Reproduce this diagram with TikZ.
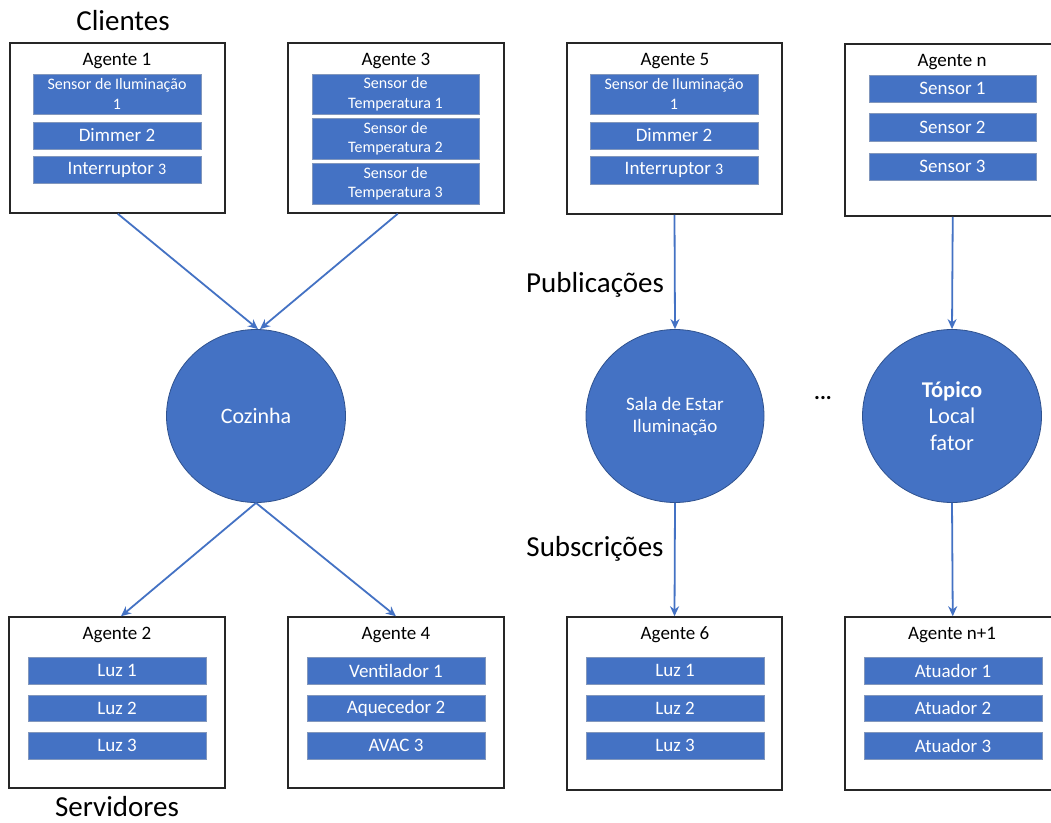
\documentclass[tikz,border=0pt]{standalone}
\usepackage{fontspec}
\setmainfont{Carlito}
\usetikzlibrary{arrows.meta,shapes.geometric}
\definecolor{blu}{HTML}{4472C4}
\definecolor{bluedge}{HTML}{2F528F}
\tikzset{
  x=1pt, y=1pt,
  agentbox/.style={draw=black!85, line width=1.5pt, fill=white, inner sep=0},
  agenttitle/.style={text=black, inner sep=0, anchor=base, font=\fontsize{19}{22}\selectfont},
  dev/.style={fill=blu, draw=bluedge!60, line width=0.6pt, text=white, inner sep=0,
    align=center, font=\fontsize{19}{22}\selectfont},
  devsmall/.style={dev, font=\fontsize{16}{19.5}\selectfont},
  topic/.style={ellipse, fill=blu, draw=bluedge, line width=0.8pt, text=white,
    inner sep=0, align=center},
  link/.style={draw=blu, line width=1.8pt, -{Stealth[length=10pt,width=9pt]}},
  heading/.style={text=black, inner sep=0, anchor=base, font=\fontsize{29}{34}\selectfont}
}
% #1 name, #2..#5 corners x1,y1,x2,y2 (y downwards), #6 style, #7 text
\newcommand\boxat[7]{\node[#6, minimum width={#4-#2}, minimum height={#5-#3}]
  (#1) at ({(#2+#4)/2},{-(#3+#5)/2}) {#7};}
\newcommand\smallnum[1]{{\fontsize{16}{19}\selectfont #1}}
\begin{document}
\begin{tikzpicture}
\clip (0,0) rectangle (1051,-822);
\fill[white] (0,0) rectangle (1051,-822);

% headings
\node[heading] (hcli) at (123,-30) {Clientes};
\node[heading] (hserv) at (117,-816) {Servidores};
\node[heading] (hpub) at (595,-292) {Publicações};
\node[heading] (hsub) at (595,-556) {Subscrições};

% ---------- client agents ----------
\boxat{a1}{10}{43}{225}{213}{agentbox}{}
\node[agenttitle] (a1t) at (117,-65) {Agente 1};
\boxat{a1d1}{33}{74}{201}{114}{devsmall}{Sensor de Iluminação\\1}
\boxat{a1d2}{33}{122}{201}{149}{dev}{Dimmer 2}
\boxat{a1d3}{33}{156}{201}{183}{dev}{Interruptor \smallnum{3}}

\boxat{a3}{288}{43}{504}{213}{agentbox}{}
\node[agenttitle] (a3t) at (396,-65) {Agente 3};
\boxat{a3d1}{312}{74}{479}{114}{devsmall}{Sensor de\\Temperatura 1}
\boxat{a3d2}{312}{118}{479}{159}{devsmall}{Sensor de\\Temperatura 2}
\boxat{a3d3}{312}{163}{479}{204}{devsmall}{Sensor de\\Temperatura 3}

\boxat{a5}{567}{43}{782}{214}{agentbox}{}
\node[agenttitle] (a5t) at (675,-65) {Agente 5};
\boxat{a5d1}{590}{74}{758}{114}{devsmall}{Sensor de Iluminação\\1}
\boxat{a5d2}{590}{122}{758}{149}{dev}{Dimmer 2}
\boxat{a5d3}{590}{156}{758}{184}{dev}{Interruptor \smallnum{3}}

\boxat{an}{845}{44}{1060}{216}{agentbox}{}
\node[agenttitle] (ant) at (952,-66) {Agente n};
\boxat{and1}{869}{75}{1036}{102}{dev}{Sensor 1}
\boxat{and2}{869}{113}{1036}{141}{dev}{Sensor 2}
\boxat{and3}{869}{153}{1036}{180}{dev}{Sensor 3}

% ---------- topics ----------
\node[topic, minimum width=179pt, minimum height=173pt,
  font=\fontsize{22}{26}\selectfont] (cozinha) at (256,-416) {Cozinha};
\node[topic, minimum width=178pt, minimum height=173pt,
  font=\fontsize{19}{22}\selectfont] (sala) at (675,-416) {Sala de Estar\\Iluminação};
\node[topic, minimum width=179pt, minimum height=173pt,
  font=\fontsize{22.5}{26.5}\selectfont] (topico) at (952,-416) {\textbf{Tópico}\\Local\\fator};
\node[text=black, inner sep=0, font=\fontsize{22}{26}\selectfont\bfseries] (dots) at (823,-398) {...};

% ---------- server agents ----------
\boxat{a2}{9}{617}{225}{788}{agentbox}{}
\node[agenttitle] (a2t) at (117,-639) {Agente 2};
\boxat{a2d1}{28}{657}{206}{684}{dev}{Luz 1}
\boxat{a2d2}{28}{695}{206}{721}{dev}{Luz 2}
\boxat{a2d3}{28}{732}{206}{759}{dev}{Luz 3}

\boxat{a4}{288}{617}{504}{788}{agentbox}{}
\node[agenttitle] (a4t) at (396,-639) {Agente 4};
\boxat{a4d1}{307}{657}{485}{684}{dev}{Ventilador 1}
\boxat{a4d2}{307}{695}{485}{721}{dev}{Aquecedor 2}
\boxat{a4d3}{307}{732}{485}{759}{dev}{AVAC 3}

\boxat{a6}{567}{617}{782}{790}{agentbox}{}
\node[agenttitle] (a6t) at (675,-639) {Agente 6};
\boxat{a6d1}{586}{657}{764}{684}{dev}{Luz 1}
\boxat{a6d2}{586}{695}{764}{721}{dev}{Luz 2}
\boxat{a6d3}{586}{732}{764}{759}{dev}{Luz 3}

\boxat{an1}{845}{617}{1060}{790}{agentbox}{}
\node[agenttitle] (an1t) at (952,-639) {Agente n+1};
\boxat{an1d1}{864}{657}{1042}{684}{dev}{Atuador 1}
\boxat{an1d2}{864}{695}{1042}{721}{dev}{Atuador 2}
\boxat{an1d3}{864}{732}{1042}{759}{dev}{Atuador 3}

% ---------- connectors ----------
\draw[link] ([xshift=-108pt]a1.south east) -- ([xshift=2pt]cozinha.north);
\draw[link] ([xshift=-107pt]a3.south east) -- ([xshift=4pt]cozinha.north);
\draw[link] (cozinha.south) -- ([xshift=4pt]a2.north);
\draw[link] (cozinha.south) -- (a4.north);
\draw[link] (a5.south) -- (sala.north);
\draw[link] ([xshift=-108pt]an.south east) -- (topico.north);
\draw[link] (sala.south) -- (a6.north);
\draw[link] (topico.south) -- ([xshift=-108pt]an1.north east);
\end{tikzpicture}
\end{document}
